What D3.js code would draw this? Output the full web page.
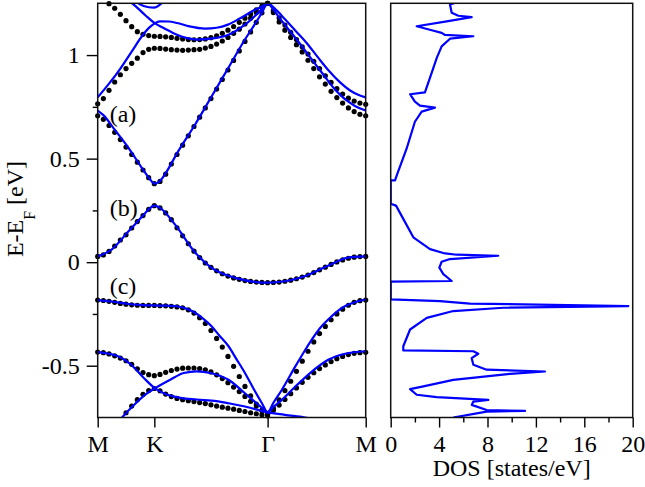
<!DOCTYPE html>
<html>
<head>
<meta charset="utf-8">
<script src="https://cdn.jsdelivr.net/npm/d3@7"></script>
<style>
body{margin:0;background:#fff;}
svg{display:block;}
</style>
</head>
<body>
<svg id="chart" width="645" height="487"></svg>
<script>
// ---------- data ----------
// high-symmetry points along the path (k in units of |MK|)
const kNodes = [0, 1, 3, 3 + Math.sqrt(3)];
const kLabels = ["M", "K", "\u0393", "M"];
const yTicks = [-0.5, 0, 0.5, 1];
const yMinorTicks = [-0.25, 0.25, 0.75];
const dosTicks = [0, 4, 8, 12, 16, 20];
const dosMinorTicks = [2, 6, 10, 14, 18];
const panelLabels = ["(a)", "(b)", "(c)"];
const panelLabelE = [0.677, 0.223, -0.154];

// blue lines: [k, E] pairs
const lineBandA = [[0,0.732],[0.1,0.71],[0.3,0.64],[0.55,0.55],[0.8,0.447],[0.92,0.402],[1,0.379],[1.1,0.392],[1.2,0.43],[1.42,0.535],[1.72,0.665],[2,0.795],[2.3,0.935],[2.6,1.075],[2.8,1.16],[2.9,1.205],[3,1.25],[3.1,1.22],[3.25,1.165],[3.5,1.08],[3.75,0.99],[4,0.9],[4.16,0.843],[4.3,0.803],[4.42,0.776],[4.55,0.753],[4.732,0.732]];
const lineBandB = [[0,0.028],[0.25,0.062],[0.54,0.148],[0.8,0.225],[0.9,0.255],[1,0.273],[1.1,0.262],[1.37,0.18],[1.72,0.047],[2,-0.025],[2.43,-0.076],[3,-0.099],[3.6,-0.073],[4.07,-0.017],[4.42,0.022],[4.732,0.028]];
const lineBandC = [[0,-0.183],[0.25,-0.19],[0.54,-0.202],[0.8,-0.207],[1,-0.209],[1.2,-0.21],[1.42,-0.214],[1.6,-0.228],[1.72,-0.244],[1.85,-0.27],[2.01,-0.309],[2.15,-0.355],[2.31,-0.406],[2.45,-0.468],[2.6,-0.535],[2.75,-0.61],[2.9,-0.681],[3,-0.725],[3.1,-0.68],[3.25,-0.617],[3.49,-0.503],[3.65,-0.43],[3.78,-0.374],[3.92,-0.32],[4.07,-0.277],[4.22,-0.24],[4.37,-0.212],[4.55,-0.192],[4.732,-0.18]];
const lineUpper1 = [[0,0.796],[0.2,0.862],[0.4,0.935],[0.6,1.017],[0.8,1.098],[0.9,1.13],[1,1.152],[1.1,1.163],[1.25,1.162],[1.4,1.155],[1.6,1.14],[1.9,1.128],[2.1,1.132],[2.3,1.147],[2.5,1.175],[2.75,1.215],[2.9,1.235],[3,1.25],[3.1,1.232],[3.25,1.19],[3.5,1.115],[3.7,1.055],[3.9,0.985],[4.07,0.928],[4.28,0.868],[4.45,0.83],[4.6,0.808],[4.732,0.796]];
const lineUpper2 = [[0.5,1.28],[0.55,1.265],[0.7,1.228],[0.85,1.19],[1,1.155],[1.17,1.13],[1.4,1.098],[1.58,1.082],[1.75,1.075],[2,1.079],[2.31,1.098],[2.6,1.147],[2.9,1.222],[3,1.25]];
const lineUpper3 = [[0.6,1.285],[0.64,1.27],[0.81,1.237],[0.99,1.229],[1.14,1.253],[1.2,1.27]];
const lineLower1 = [[0,-0.434],[0.35,-0.453],[0.58,-0.493],[0.81,-0.558],[1.02,-0.611],[1.22,-0.639],[1.46,-0.655],[1.75,-0.663],[2.1,-0.671],[2.31,-0.681],[2.6,-0.697],[3,-0.725],[3.3,-0.737],[3.66,-0.75],[3.8,-0.756]];
const lineLower2 = [[0.35,-0.775],[0.43,-0.75],[0.64,-0.69],[0.87,-0.634],[1,-0.611],[1.28,-0.568],[1.52,-0.535],[1.75,-0.527],[1.99,-0.535],[2.31,-0.568],[2.6,-0.633],[2.8,-0.68],[2.9,-0.703],[3,-0.725],[3.1,-0.7],[3.25,-0.665],[3.5,-0.598],[3.78,-0.528],[4.07,-0.471],[4.37,-0.442],[4.732,-0.43]];

// black dots: energies on the k grid (M-K: 11 points, K-Γ: 20 points after K, Γ-M: 17 points after Γ)
const dotsA_MK = [0.707,0.690,0.660,0.627,0.592,0.556,0.520,0.483,0.445,0.408,0.379];
const dotsA_KG = [0.390,0.425,0.474,0.520,0.565,0.610,0.655,0.700,0.745,0.790,0.836,0.882,0.928,0.974,1.020,1.066,1.112,1.158,1.204,1.250];
const dotsA_GM = [1.205,1.160,1.120,1.085,1.050,1.015,0.975,0.935,0.895,0.860,0.825,0.795,0.768,0.745,0.727,0.714,0.707];
const dotsB_MK = [0.028,0.035,0.052,0.078,0.107,0.132,0.165,0.196,0.225,0.255,0.273];
const dotsB_KG = [0.262,0.238,0.205,0.166,0.127,0.089,0.053,0.022,-0.004,-0.025,-0.042,-0.056,-0.067,-0.076,-0.083,-0.089,-0.093,-0.096,-0.098,-0.099];
const dotsB_GM = [-0.098,-0.096,-0.092,-0.087,-0.080,-0.072,-0.062,-0.050,-0.037,-0.024,-0.011,0.001,0.011,0.019,0.024,0.027,0.028];
const dotsC_MK = [-0.183,-0.185,-0.189,-0.194,-0.199,-0.203,-0.206,-0.208,-0.209,-0.209,-0.209];
const dotsC_KG = [-0.210,-0.211,-0.213,-0.216,-0.220,-0.230,-0.246,-0.268,-0.296,-0.330,-0.368,-0.410,-0.455,-0.503,-0.552,-0.600,-0.645,-0.685,-0.715,-0.730];
const dotsC_GM = [-0.705,-0.665,-0.620,-0.575,-0.527,-0.478,-0.430,-0.385,-0.345,-0.310,-0.278,-0.250,-0.227,-0.208,-0.194,-0.186,-0.183];
const dotsU1_MK = [0.765,0.790,0.830,0.870,0.905,0.935,0.960,0.985,1.012,1.028,1.033];
const dotsU1_KG = [1.032,1.029,1.026,1.024,1.023,1.024,1.026,1.028,1.034,1.042,1.053,1.068,1.085,1.105,1.125,1.150,1.178,1.205,1.230,1.250];
const dotsU1_GM = [1.215,1.180,1.145,1.110,1.075,1.040,1.005,0.970,0.935,0.900,0.868,0.838,0.812,0.792,0.778,0.768,0.762];
const dotsU2_MK = [1.320,1.285,1.248,1.226,1.197,1.166,1.137,1.113,1.100,1.094,1.091];
const dotsU2_KG = [1.090,1.088,1.085,1.081,1.078,1.075,1.074,1.075,1.078,1.084,1.093,1.105,1.120,1.138,1.158,1.178,1.198,1.218,1.236,1.250];
const dotsL1_MK = [-0.434,-0.437,-0.443,-0.452,-0.463,-0.476,-0.493,-0.515,-0.533,-0.543,-0.548];
const dotsL1_KG = [-0.542,-0.532,-0.523,-0.516,-0.512,-0.511,-0.511,-0.514,-0.520,-0.530,-0.544,-0.562,-0.582,-0.603,-0.625,-0.648,-0.672,-0.695,-0.716,-0.733];
const dotsL1_GM = [-0.715,-0.690,-0.663,-0.635,-0.607,-0.580,-0.556,-0.534,-0.514,-0.496,-0.480,-0.466,-0.455,-0.446,-0.440,-0.437,-0.435];
const dotsL2_MK = [-0.870,-0.850,-0.825,-0.795,-0.760,-0.727,-0.695,-0.664,-0.638,-0.620,-0.610];
const dotsL2_KG = [-0.621,-0.637,-0.649,-0.658,-0.664,-0.669,-0.673,-0.678,-0.683,-0.689,-0.695,-0.700,-0.705,-0.710,-0.716,-0.721,-0.727,-0.732,-0.737,-0.742];

// density of states: energy (eV) and DOS (states/eV)
const dosEnergy = [1.26,1.244,1.204,1.19,1.183,1.163,1.139,1.12,1.107,1.098,1.091,1.079,1.042,0.985,0.937,0.82,0.811,0.775,0.756,0.746,0.727,0.678,0.549,0.419,0.395,0.395,0.282,0.273,0.209,0.12,0.063,0.044,0.036,0.031,0.015,0.002,-0.026,-0.058,-0.091,-0.094,-0.18,-0.188,-0.2,-0.212,-0.22,-0.236,-0.269,-0.325,-0.406,-0.426,-0.43,-0.442,-0.463,-0.495,-0.519,-0.528,-0.539,-0.568,-0.6,-0.613,-0.64,-0.652,-0.665,-0.673,-0.689,-0.714,-0.718,-0.722,-0.75];
const dosValue = [5.73,4.9,5.04,5.59,6.69,4.63,2.15,3.39,4.21,4.46,6.83,4.9,4.21,3.8,3.52,2.83,1.6,2.0,2.42,3.66,2.56,2.0,1.32,0.5,0.36,0,0,0.44,1.04,1.87,3.25,4.35,5.45,8.89,4.9,4.21,4.02,4.35,5.04,0,0,4.07,6.55,19.64,9.3,5.17,2.98,1.6,1.04,1.04,6.83,7.24,6.69,6.83,7.93,12.75,9.86,5.17,2.7,1.6,2.15,3.8,8.07,6.83,6.7,7.93,11.1,7.93,5.17];

// ---------- drawing ----------
const FONT = "'Liberation Serif','Times New Roman',serif";
const BLUE = "#0000ff";
const svg = d3.select("#chart");
const top_ = 3.3, bot = 417.5;
const y = d3.scaleLinear().domain([-0.75, 1.25]).range([bot, top_]);
const kx = d3.scaleLinear().domain([kNodes[0], kNodes[3]]).range([97.7, 365.7]);
const dx = d3.scaleLinear().domain([0, 20]).range([390.7, 632.7]);

const defs = svg.append("defs");
defs.append("clipPath").attr("id","clipL").append("rect")
  .attr("x", kx.range()[0]).attr("y", top_).attr("width", kx.range()[1]-kx.range()[0]).attr("height", bot-top_);
defs.append("clipPath").attr("id","clipR").append("rect")
  .attr("x", dx.range()[0]).attr("y", top_).attr("width", dx.range()[1]-dx.range()[0]).attr("height", bot-top_);

// dots
const gmStep = (kNodes[3]-kNodes[2])/17;
function gridPairs(mk, kg, gm){
  const pts = [];
  mk.forEach((e,i)=>pts.push([kNodes[0] + i*0.1, e]));
  kg.forEach((e,i)=>pts.push([kNodes[1] + (i+1)*0.1, e]));
  if (gm) gm.forEach((e,j)=>pts.push([kNodes[2] + (j+1)*gmStep, e]));
  return pts;
}
const dotBands = [
  gridPairs(dotsA_MK, dotsA_KG, dotsA_GM),
  gridPairs(dotsB_MK, dotsB_KG, dotsB_GM),
  gridPairs(dotsC_MK, dotsC_KG, dotsC_GM),
  gridPairs(dotsU1_MK, dotsU1_KG, dotsU1_GM),
  gridPairs(dotsU2_MK, dotsU2_KG, null),
  gridPairs(dotsL1_MK, dotsL1_KG, dotsL1_GM),
  gridPairs(dotsL2_MK, dotsL2_KG, null)
];
const allDots = dotBands.flat().filter(d => d[1] <= 1.252 && d[1] >= -0.752);
svg.append("g").selectAll("circle").data(allDots).join("circle")
  .attr("cx", d=>kx(d[0])).attr("cy", d=>y(d[1])).attr("r", 2.6).attr("fill", "#000");

// blue band lines
const lineGen = d3.line().x(d=>kx(d[0])).y(d=>y(d[1])).curve(d3.curveMonotoneX);
const blueBands = [lineBandA, lineBandB, lineBandC, lineUpper1, lineUpper2, lineUpper3, lineLower1, lineLower2];
svg.append("g").attr("clip-path","url(#clipL)").selectAll("path").data(blueBands).join("path")
  .attr("d", lineGen).attr("fill","none").attr("stroke", BLUE).attr("stroke-width", 2.2)
  .attr("stroke-linejoin","round");

// DOS line
const dosPts = dosEnergy.map((e,i)=>[dosValue[i], e]);
svg.append("g").attr("clip-path","url(#clipR)").append("path")
  .datum(dosPts)
  .attr("d", d3.line().x(d=>dx(d[0])).y(d=>y(d[1])))
  .attr("fill","none").attr("stroke", BLUE).attr("stroke-width", 2.2).attr("stroke-linejoin","round");

// frames
function frame(x0, x1){
  svg.append("rect").attr("x", x0).attr("y", top_).attr("width", x1-x0).attr("height", bot-top_)
    .attr("fill","none").attr("stroke","#111").attr("stroke-width",1.5);
}
frame(kx.range()[0], kx.range()[1]);
frame(dx.range()[0], dx.range()[1]);

function styleAxis(g){
  g.select(".domain").remove();
  g.selectAll(".tick line").attr("stroke","#000").attr("stroke-width",1.4);
  g.selectAll(".tick text").attr("font-family", FONT).attr("font-size", 24).attr("fill","#000");
}

// left y axis
svg.append("g").attr("transform",`translate(${kx.range()[0]},0)`)
  .call(d3.axisLeft(y).tickValues(yTicks).tickSize(11).tickPadding(7).tickFormat(d=>String(d)))
  .call(styleAxis);
svg.append("g").attr("transform",`translate(${kx.range()[0]},0)`)
  .call(d3.axisLeft(y).tickValues(yMinorTicks).tickSize(5).tickFormat(""))
  .call(styleAxis);

// left x axis
svg.append("g").attr("transform",`translate(0,${bot})`)
  .call(d3.axisBottom(kx).tickValues(kNodes).tickSize(10).tickPadding(7).tickFormat((d,i)=>kLabels[i]))
  .call(styleAxis);

// DOS x axis
svg.append("g").attr("transform",`translate(0,${bot})`)
  .call(d3.axisBottom(dx).tickValues(dosTicks).tickSize(10).tickPadding(7).tickFormat(d=>String(d)))
  .call(styleAxis);
svg.append("g").attr("transform",`translate(0,${bot})`)
  .call(d3.axisBottom(dx).tickValues(dosMinorTicks).tickSize(5).tickFormat(""))
  .call(styleAxis);

// axis titles
const yl = svg.append("text").attr("transform","translate(22.5,209) rotate(-90)")
  .attr("text-anchor","middle").attr("font-family",FONT).attr("font-size",24).attr("fill","#000");
yl.append("tspan").text("E-E");
yl.append("tspan").attr("font-size",16).attr("dy",12).text("F");
yl.append("tspan").attr("dy",-12).text(" [eV]");

svg.append("text").attr("x", (dx.range()[0]+dx.range()[1])/2).attr("y", 476)
  .attr("text-anchor","middle").attr("font-family",FONT).attr("font-size",24).attr("fill","#000")
  .text("DOS [states/eV]");

// panel labels
svg.append("g").selectAll("text").data(panelLabels).join("text")
  .attr("x", kx.range()[0] + 12).attr("y", (d,i)=>y(panelLabelE[i]))
  .attr("font-family",FONT).attr("font-size",24).attr("fill","#000")
  .text(d=>d);
</script>
</body>
</html>
